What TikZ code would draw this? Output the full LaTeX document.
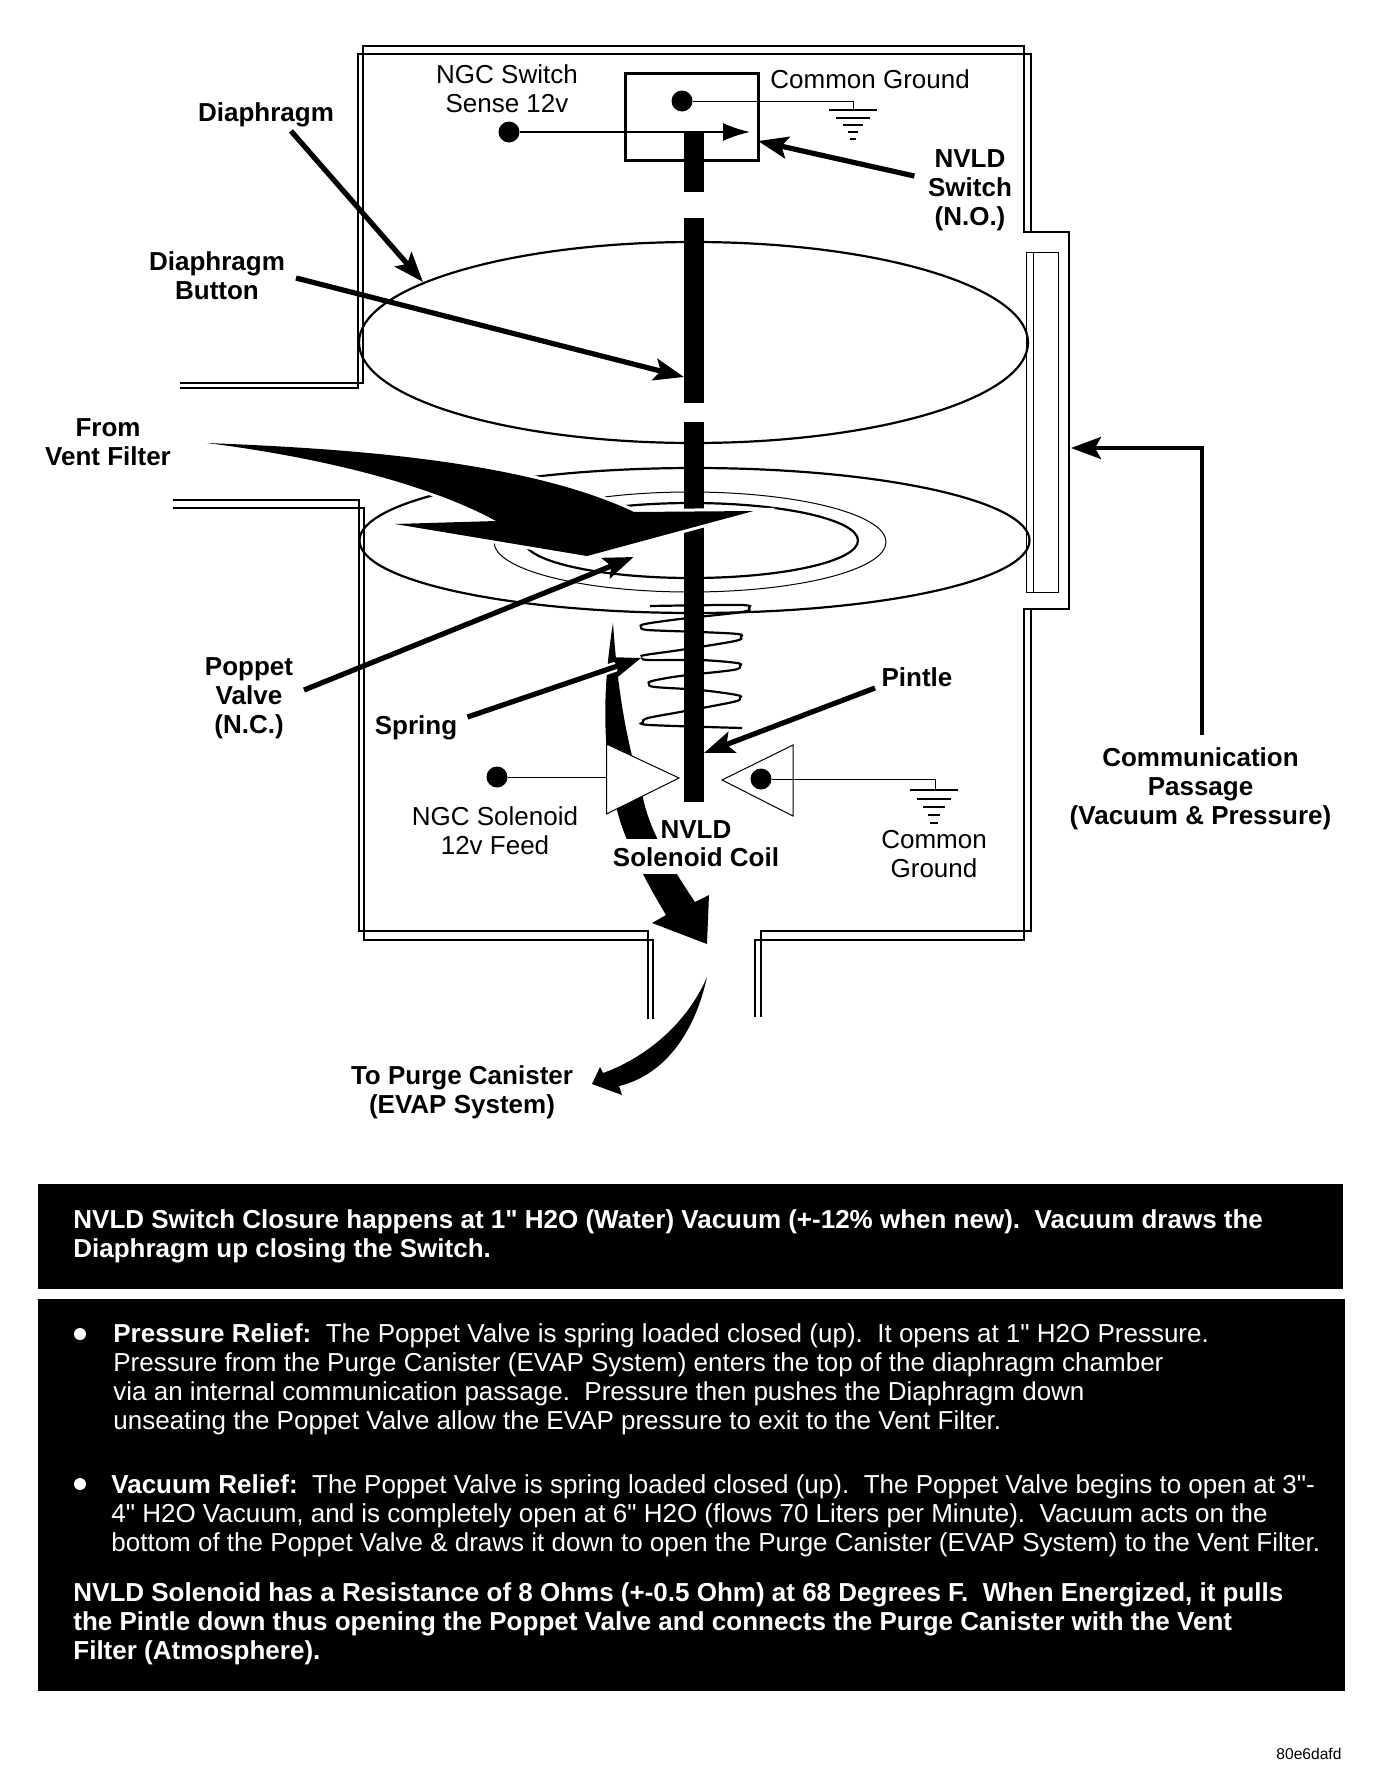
\documentclass[tikz,border=0pt]{standalone}
\usepackage{fontspec}
\setmainfont{Liberation Sans}[Ligatures=TeXOff]
\usepackage{tikz}
\usetikzlibrary{arrows.meta}
\tikzset{
    vertex/.style={circle, fill=black, inner sep=0pt, minimum size=10.5pt},
    wall/.style={line width=0.7pt},
    wire/.style={line width=0.5pt},
    disc/.style={line width=1.1pt},
    leader/.style={line width=2.6pt, -{Stealth[length=15pt, width=11pt, inset=3pt]}},
    flow/.style={fill=black, preaction={draw=white, line width=3pt}},
    pintle/.style={fill=black},
    graphlabel/.style={align=center, anchor=base, inner sep=0pt, font=\fontsize{13}{14.5}\selectfont},
    boldlabel/.style={graphlabel, font=\fontsize{13}{14.5}\selectfont\bfseries},
    notetext/.style={text=white, align=left, anchor=base west, inner sep=0pt, font=\fontsize{13}{14.5}\selectfont},
    notebold/.style={notetext, font=\fontsize{13}{14.5}\selectfont\bfseries}
}

\begin{document}
\begin{tikzpicture}[x=0.5pt, y=-0.5pt]
    \useasboundingbox (0,0) rectangle (1392,1788);

    % housing, upper half
    \draw[wall] (180,383) -- (363,383) -- (363,46) -- (1024,46) -- (1024,232) -- (1069,232) -- (1069,609) -- (1024,609) -- (1024,940) -- (755,940) -- (755,1017);
    \draw[wall] (180,388) -- (358,388) -- (358,54) -- (1031,54) -- (1031,232);
    % housing, lower half
    \draw[wall] (173,500) -- (359,500) -- (359,931) -- (648,931) -- (648,1019);
    \draw[wall] (173,508) -- (364,508) -- (364,940) -- (653,940) -- (653,1019);
    \draw[wall] (761,1017) -- (761,931) -- (1031,931) -- (1031,609);
    % communication passage
    \draw[wire] (1026,252) rectangle (1058,592);
    \draw[wire] (1033,252) -- (1033,592);

    % diaphragm and poppet valve
    \draw[disc] (693.5,342.5) ellipse (334.5 and 100.5);
    \draw[disc] (694.5,540.5) ellipse (335 and 72.5);
    \draw[wire] (690,542) ellipse (196 and 50);
    \draw[disc] (691,540.5) ellipse (167 and 37.5);

    % spring
    \draw[line width=1.1pt] plot[smooth, tension=0.55] coordinates {(650,606) (740,605) (749,608) (742,612) (680,619) (645,624) (641,627) (648,630) (700,632) (738,634) (741,637) (735,641) (680,650) (645,655) (641,657) (648,660) (700,660) (737,663) (740,666) (733,670) (680,676) (652,681) (649,684) (655,687) (700,690) (737,695) (740,698) (733,702) (680,712) (648,718) (643,722) (650,725) (742,728)};

    % pintle
    \fill[pintle] (684,132) rectangle (704,192);
    \fill[pintle] (684,218) rectangle (704,403);
    \fill[pintle] (684,422) rectangle (704,802);

    % flow arrows
    \path[flow] (207,443) .. controls (330,448) and (520,458) .. (634,512) -- (753.5,511) -- (587,556) -- (395,524) -- (496,521) .. controls (440,490) and (340,460) .. (207,443) -- cycle;
    \path[fill=black] (613,623) .. controls (604,680) and (600,745) .. (617,810) .. controls (625,842) and (645,880) .. (666,915) -- (652,923) -- (707,944) -- (709,895) -- (695,902) .. controls (672,868) and (650,832) .. (643,798) .. controls (635,765) and (620,725) .. (613,623) -- cycle;
    \path[fill=black] (707,977) .. controls (695,1032) and (665,1075) .. (619,1086) -- (622,1095) -- (592,1084) -- (600,1067) -- (603,1073) .. controls (640,1060) and (685,1028) .. (707,977) -- cycle;

    % NVLD switch
    \node[draw, line width=1.5pt, minimum width=66.5pt, minimum height=43.5pt, inner sep=0pt] (switchbox) at (691.5,116.5) {};
    \node[vertex] (groundpin) at (682,101) {};
    \node[vertex] (sensepin) at (509,132) {};
    \coordinate (sensetip) at (750,132);
    \coordinate (groundtop) at (853,110);
    \draw[wire] (groundpin) -| (groundtop);
    \draw[line width=0.9pt, -{Latex[length=13.5pt, width=9pt]}] (sensepin) -- (sensetip);
    \begin{scope}[shift={(853,110)}]
        \foreach \y/\w in {0/24, 8/17, 15/10, 22/5, 29/3}
            \draw[line width=0.7pt] (-\w,\y) -- (\w,\y);
    \end{scope}

    % NVLD solenoid coil
    \coordinate (coilleft) at (606.5,777);
    \coordinate (coilright) at (793,779);
    \coordinate (coilground) at (935,790);
    \draw[wire, fill=white] (606.5,744) -- (679,778) -- (606.5,814) -- cycle;
    \draw[wire, fill=white] (793,745) -- (722,780) -- (793,816) -- cycle;
    \node[vertex] (feedpin) at (497,777) {};
    \node[vertex] (coilpin) at (761,779) {};
    \draw[wire] (feedpin) -- (coilleft);
    \draw[wire] (coilpin) -| (coilground);
    \begin{scope}[shift={(934,790)}]
        \foreach \y/\w in {0/24, 9/17, 17/11, 25/6, 33/4}
            \draw[line width=0.7pt] (-\w,\y) -- (\w,\y);
    \end{scope}

    % labels
    \node[graphlabel] (sensetext) at (507,112) {NGC Switch\\Sense 12v};
    \node[graphlabel, anchor=base west] (commontext) at (770,88) {Common Ground};
    \node[boldlabel] (switchtext) at (970,225) {NVLD\\Switch\\(N.O.)};
    \node[boldlabel] (diaphragmtext) at (266,121) {Diaphragm};
    \node[boldlabel] (buttontext) at (217,299) {Diaphragm\\Button};
    \node[boldlabel] (venttext) at (108,465) {From\\Vent Filter};
    \node[boldlabel] (poppettext) at (249,733) {Poppet\\Valve\\(N.C.)};
    \node[boldlabel] (springtext) at (416,734) {Spring};
    \node[boldlabel] (pintletext) at (917,686) {Pintle};
    \node[graphlabel] (feedtext) at (495,854) {NGC Solenoid\\12v Feed};
    \node[boldlabel] (coiltop) at (696,838) {NVLD};
    \node[boldlabel, fill=white, inner xsep=1pt, inner ysep=4pt] (coiltext) at (696,866) {Solenoid Coil};
    \node[graphlabel] (groundtext) at (934,877) {Common\\Ground};
    \node[boldlabel] (passagetext) at (1200.5,824) {Communication\\Passage\\(Vacuum \& Pressure)};
    \node[boldlabel] (purgetext) at (462,1113) {To Purge Canister\\(EVAP System)};

    % leaders
    \coordinate (diaphragmfrom) at (291,131);
    \coordinate (diaphragmtip) at (423,282);
    \coordinate (buttonfrom) at (296,278);
    \coordinate (buttontip) at (684,377);
    \coordinate (switchfrom) at (914.4,176);
    \coordinate (switchtip) at (758,141);
    \coordinate (poppetfrom) at (304,690);
    \coordinate (poppettip) at (633.6,557);
    \coordinate (springfrom) at (467.5,717);
    \coordinate (springtip) at (641,658);
    \coordinate (pintlefrom) at (875,688);
    \coordinate (pintletip) at (704,753);
    \coordinate (passagefrom) at (1201.5,735);
    \coordinate (passagebend) at (1201.5,448);
    \coordinate (passagetip) at (1071,448);
    \draw[leader] (diaphragmfrom) -- (diaphragmtip);
    \draw[leader] (buttonfrom) -- (buttontip);
    \draw[leader] (switchfrom) -- (switchtip);
    \draw[leader] (poppetfrom) -- (poppettip);
    \draw[white, line width=5pt] (springfrom) -- (springtip);
    \draw[leader] (springfrom) -- (springtip);
    \draw[leader] (pintlefrom) -- (pintletip);
    \draw[leader, line width=2pt] (passagefrom) -- (passagebend) -- (passagetip);

    % notes
    \fill (38,1184) rectangle (1343,1289);
    \fill (38,1299) rectangle (1345,1691);
    \node[notebold] (closurenote) at (73,1257) {NVLD Switch Closure happens at 1" H2O (Water) Vacuum (+-12\% when new).~~Vacuum draws the\\Diaphragm up closing the Switch.};
    \node[circle, fill=white, inner sep=0pt, minimum size=6pt] (pressurebullet) at (80,1334) {};
    \node[notetext] (pressurenote) at (113,1429) {\textbf{Pressure Relief:}~~The Poppet Valve is spring loaded closed (up).~~It opens at 1" H2O Pressure.\\Pressure from the Purge Canister (EVAP System) enters the top of the diaphragm chamber\\via an internal communication passage.~~Pressure then pushes the Diaphragm down\\unseating the Poppet Valve allow the EVAP pressure to exit to the Vent Filter.};
    \node[circle, fill=white, inner sep=0pt, minimum size=6pt] (vacuumbullet) at (80,1484) {};
    \node[notetext] (vacuumnote) at (111,1551) {\textbf{Vacuum Relief:}~~The Poppet Valve is spring loaded closed (up).~~The Poppet Valve begins to open at 3"-\\4" H2O Vacuum, and is completely open at 6" H2O (flows 70 Liters per Minute).~~Vacuum acts on the\\bottom of the Poppet Valve \& draws it down to open the Purge Canister (EVAP System) to the Vent Filter.};
    \node[notebold] (solenoidnote) at (73,1659) {NVLD Solenoid has a Resistance of 8 Ohms (+-0.5 Ohm) at 68 Degrees F.~~When Energized, it pulls\\the Pintle down thus opening the Poppet Valve and connects the Purge Canister with the Vent\\Filter (Atmosphere).};
    \node[graphlabel, anchor=base west, font=\fontsize{7.8}{9}\selectfont] (figuretag) at (1276,1759) {80e6dafd};
\end{tikzpicture}
\end{document}
